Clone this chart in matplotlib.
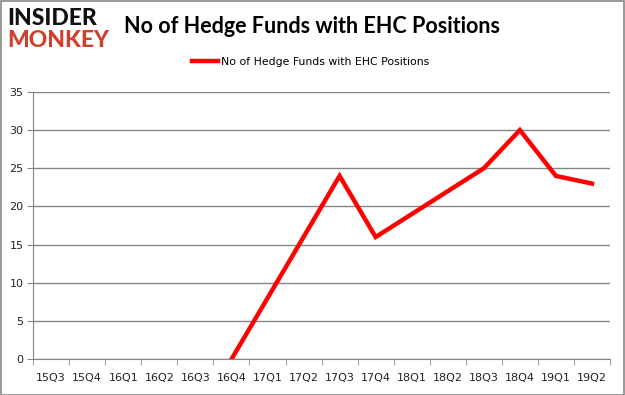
import matplotlib
matplotlib.use("Agg")
import matplotlib.pyplot as plt
from matplotlib.patches import Rectangle
import numpy as np

quarters = ["15Q3", "15Q4", "16Q1", "16Q2", "16Q3", "16Q4", "17Q1", "17Q2",
            "17Q3", "17Q4", "18Q1", "18Q2", "18Q3", "18Q4", "19Q1", "19Q2"]
funds = [np.nan, np.nan, np.nan, np.nan, np.nan, 0, 8, 16,
         24, 16, 19, 22, 25, 30, 24, 23]
series_name = "No of Hedge Funds with EHC Positions"
y_ticks = [0, 5, 10, 15, 20, 25, 30, 35]

fig = plt.figure(figsize=(6.25, 3.95), dpi=100)
ax = fig.add_axes([0.053, 0.0904, 0.923, 0.677])

x = np.arange(len(quarters))
ax.plot(x, funds, color="#ff0000", lw=3.2, solid_joinstyle="miter", label=series_name)

ax.set_xlim(-0.5, len(quarters) - 0.5)
ax.set_ylim(0, 35)
ax.set_yticks(y_ticks)
ax.set_xticks(x)
ax.set_xticklabels(quarters)
ax.set_xticks(np.arange(-0.5, len(quarters)), minor=True)
ax.tick_params(axis="x", which="major", length=0, pad=10, labelsize=8, colors="#222222")
ax.tick_params(axis="x", which="minor", length=4, color="#868686")
ax.tick_params(axis="y", length=4, color="#868686", labelsize=8, colors="#222222", pad=3)
ax.grid(axis="y", color="#868686", lw=1)
ax.set_axisbelow(True)
for s in ["top", "right"]:
    ax.spines[s].set_visible(False)
ax.spines["left"].set_color("#868686")
ax.spines["bottom"].set_color("#868686")

# Legend
fig.legend(loc="center", bbox_to_anchor=(0.497, 0.843), frameon=False, fontsize=7.8,
           handlelength=2.4, handletextpad=0.2)

# Title
fig.text(0.198, 0.932, "No of Hedge Funds with EHC Positions", fontsize=15.5,
         fontweight="bold", family="Lato", ha="left", va="center", color="#000000")

# Logo
fig.text(0.011, 0.953, "INSIDER", fontsize=16.5, fontweight="black", family="Lato",
         ha="left", va="center", color="#111111")
fig.text(0.011, 0.897, "MONKEY", fontsize=16.5, fontweight="black", family="Lato",
         ha="left", va="center", color="#d0402c")

# Outer frame
fig.patches.append(Rectangle((0.001, 0.001), 0.997, 0.997, transform=fig.transFigure,
                             fill=False, edgecolor="#888888", lw=1.2))

fig.savefig("out.png", dpi=100)
